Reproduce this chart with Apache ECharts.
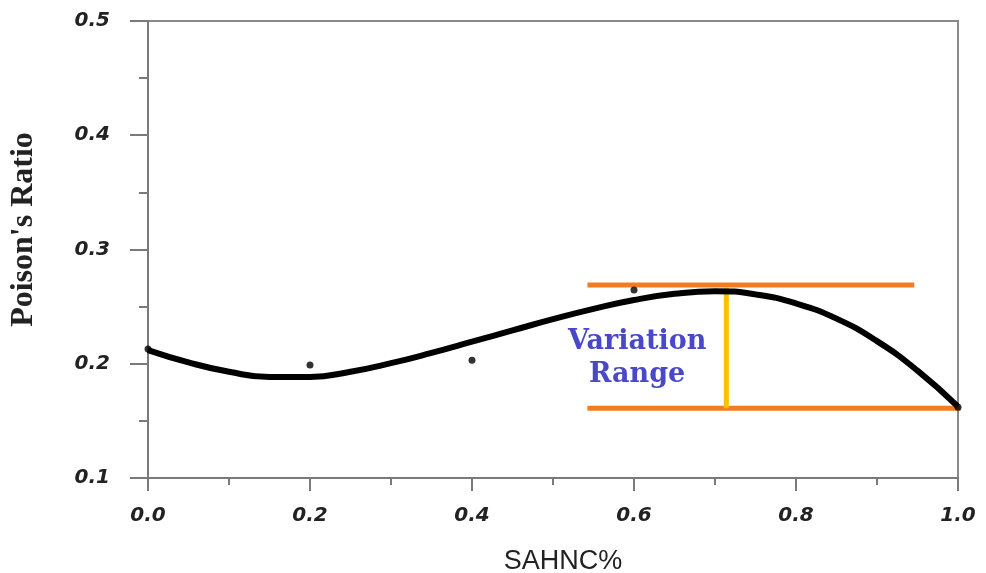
<!DOCTYPE html>
<html>
<head>
<meta charset="utf-8">
<script src="https://cdn.jsdelivr.net/npm/echarts@6/dist/echarts.min.js"></script>
<style>
html,body{margin:0;padding:0;background:#fff;}
#chart{width:986px;height:573px;}
</style>
</head>
<body>
<div id="chart"></div>
<script>
// Fitted curve (SAHNC%, Poisson's ratio)
const curveX = [0.00,0.05,0.10,0.15,0.20,0.25,0.30,0.35,0.40,0.45,0.50,0.55,0.60,0.65,0.70,0.75,0.80,0.85,0.90,0.95,1.00];
const curveY = [0.212,0.2012,0.1930,0.1885,0.1885,0.1930,0.2005,0.2095,0.2193,0.2292,0.2390,0.2480,0.2558,0.2612,0.2635,0.2607,0.2528,0.2395,0.2198,0.1940,0.1625];
// Measured points
const pointX = [0.0,0.2,0.4,0.6,1.0];
const pointY = [0.213,0.199,0.203,0.2645,0.162];
// Variation range annotation
const rangeTopX = [0.5425,0.946];
const rangeTopY = [0.269,0.269];
const rangeBotX = [0.5425,1.003];
const rangeBotY = [0.161,0.161];
const rangeBarX = [0.714,0.714];
const rangeBarY = [0.267,0.161];
const xTicks = [0.0,0.2,0.4,0.6,0.8,1.0];
const yTicks = [0.1,0.2,0.3,0.4,0.5];
const xTitle = 'SAHNC%';
const yTitle = "Poison's Ratio";
const annotation = 'Variation\nRange';

const zip = (a,b) => a.map((v,i)=>[v,b[i]]);
const chart = echarts.init(document.getElementById('chart'));
const tickFont = {fontFamily:'DejaVu Sans',fontWeight:'bold',fontStyle:'italic',fontSize:20,color:'#222'};
chart.setOption({
  animation:false,
  backgroundColor:'#fff',
  grid:{left:148,right:28,top:21,bottom:95,show:true,borderColor:'#8a8a8a',borderWidth:2,backgroundColor:'transparent',outerBoundsMode:'none',containLabel:false},
  xAxis:{
    type:'value',min:0,max:1,interval:0.2,
    name:xTitle,nameLocation:'middle',nameGap:70,
    nameTextStyle:{fontFamily:'Liberation Sans',fontSize:27,color:'#222',padding:[0,0,0,20]},
    axisLine:{show:true,onZero:false,lineStyle:{color:'#7a7a7a',width:2}},
    axisTick:{show:true,inside:false,length:13,lineStyle:{color:'#7a7a7a',width:2}},
    minorTick:{show:true,splitNumber:2,length:7,lineStyle:{color:'#7a7a7a',width:2}},
    splitLine:{show:false},
    axisLabel:Object.assign({margin:28,formatter:v=>v.toFixed(1)},tickFont)
  },
  yAxis:{
    type:'value',min:0.1,max:0.5,interval:0.1,
    name:yTitle,nameLocation:'middle',nameGap:108,
    nameTextStyle:{fontFamily:'Liberation Serif',fontWeight:'bold',fontSize:32,color:'#222',padding:[0,0,0,40]},
    axisLine:{show:true,onZero:false,lineStyle:{color:'#7a7a7a',width:2}},
    axisTick:{show:true,inside:false,length:18,lineStyle:{color:'#7a7a7a',width:2}},
    minorTick:{show:true,splitNumber:2,length:9,lineStyle:{color:'#7a7a7a',width:2}},
    splitLine:{show:false},
    axisLabel:Object.assign({margin:38,formatter:v=>v.toFixed(1)},tickFont)
  },
  series:[
    {type:'line',data:zip(rangeTopX,rangeTopY),symbol:'none',lineStyle:{color:'#f47c20',width:5},z:3},
    {type:'line',data:zip(rangeBotX,rangeBotY),symbol:'none',lineStyle:{color:'#f47c20',width:5},z:3},
    {type:'line',data:zip(rangeBarX,rangeBarY),symbol:'none',lineStyle:{color:'#ffc000',width:5},z:4},
    {type:'line',data:zip(curveX,curveY),smooth:0.5,symbol:'none',lineStyle:{color:'#000',width:6},z:5},
    {type:'scatter',data:zip(pointX,pointY),symbol:'circle',symbolSize:7,itemStyle:{color:'#000'},z:6}
  ],
  graphic:[{
    type:'text',left:568,top:325,z:10,
    style:{text:annotation,fontFamily:'DejaVu Serif',fontWeight:'bold',fontSize:27,lineHeight:33,fill:'#4848c8',textAlign:'center'}
  }]
});
</script>
</body>
</html>
